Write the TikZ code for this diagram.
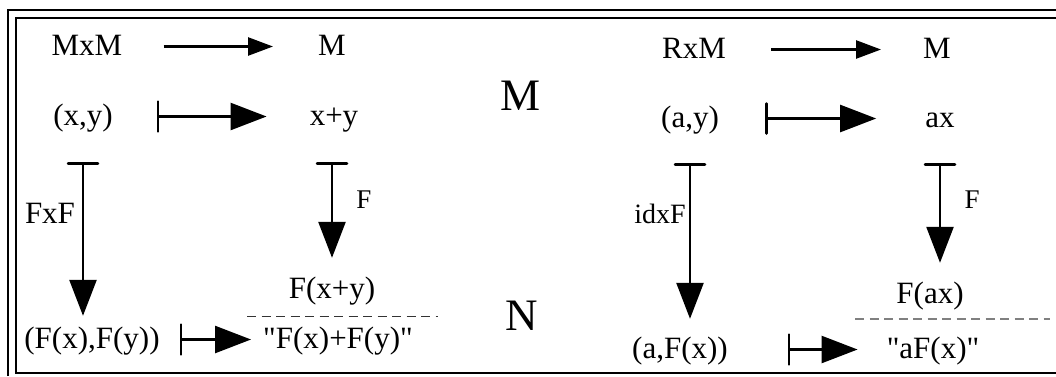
\documentclass[tikz,border=0pt]{standalone}
\usepackage{fontspec}
\setmainfont{Liberation Serif}[Ligatures=TeXOff]
\usetikzlibrary{arrows.meta}

\tikzset{
  term/.style={inner sep=0pt, anchor=base, text height=23pt, text depth=6pt,
    font=\fontsize{31}{36}\selectfont},
  space/.style={inner sep=0pt, anchor=base, font=\fontsize{45}{52}\selectfont},
  lbl/.style={inner sep=0pt, anchor=base, font=\fontsize{#1}{#1}\selectfont},
  fun/.style={line width=2.5pt, -{Triangle[length=25pt,width=18pt]}},
  elt/.style={line width=2.5pt, {Bar[width=30pt,round]}-{Triangle[length=36pt,width=27pt]}},
  sepline/.style={dash pattern=on 9pt off 5.5pt}
}

\begin{document}
\begin{tikzpicture}[x=1pt,y=-1pt]
  \useasboundingbox (0,0) rectangle (1056,376);

  % frame
  \draw[line width=1.5pt] (8,376) -- (8,10) -- (1056,10);
  \draw[line width=2pt] (1056,18) -- (16,18) -- (16,373) -- (1056,373);

  % addition
  \node[term] (mxm) at (87,55) {MxM};
  \node[term] (mA) at (332,55) {M};
  \node[term] (xy) at (83,125) {(x,y)};
  \node[term] (xpy) at (334,125) {x+y};
  \node[term] (fxpy) at (332,298) {F(x+y)};
  \node[term] (ffxy) at (92,348) {(F(x),F(y))};
  \node[term] (qsum) at (338,348) {"F(x)+F(y)"};
  \node[lbl=31] (fxfl) at (50,223) {FxF};
  \node[lbl=27] (fl) at (364,208) {F};

  \draw[fun, shorten <=41pt, shorten >=45pt] (mxm) -- (mA);
  \draw[elt, shorten <=44pt, shorten >=43pt] (xy) -- (xpy);
  \draw[elt, shorten <=31pt, shorten >=9pt] (xy.south) -- (xy.south |- ffxy.north);
  \draw[elt, shorten <=31pt, shorten >=17pt] (fxpy.north |- xpy.south) -- (fxpy.north);
  \draw[elt, shorten <=20pt, shorten >=12pt] (ffxy) -- (qsum);
  \draw[sepline, black!80, line width=1pt] (247,316) -- (438,316);

  % spaces
  \node[space] (spM) at (520,110) {M};
  \node[space] (spN) at (522,330) {N};

  % scalar multiplication
  \node[term] (rxm) at (694,58) {RxM};
  \node[term] (mB) at (937,58) {M};
  \node[term] (ay) at (690,127) {(a,y)};
  \node[term] (ax) at (940,127) {ax};
  \node[term] (fax) at (930,303) {F(ax)};
  \node[term] (afx) at (680,358) {(a,F(x))};
  \node[term] (qmul) at (933,358) {"aF(x)"};
  \node[lbl=28] (idxfl) at (660,223) {idxF};
  \node[lbl=27] (fr) at (972,208) {F};

  \draw[fun, shorten <=45pt, shorten >=42pt] (rxm) -- (mB);
  \draw[elt, shorten <=46pt, shorten >=49pt] (ay) -- (ax);
  \draw[elt, shorten <=30pt, shorten >=16pt] (ay.south) -- (ay.south |- afx.north);
  \draw[elt, shorten <=30pt, shorten >=17pt] (ax.south) -- (ax.south |- fax.north);
  \draw[elt, shorten <=60pt, shorten >=29pt] (afx) -- (qmul);
  \draw[sepline, black!50, line width=1.5pt] (855,319) -- (1050,319);
\end{tikzpicture}
\end{document}
